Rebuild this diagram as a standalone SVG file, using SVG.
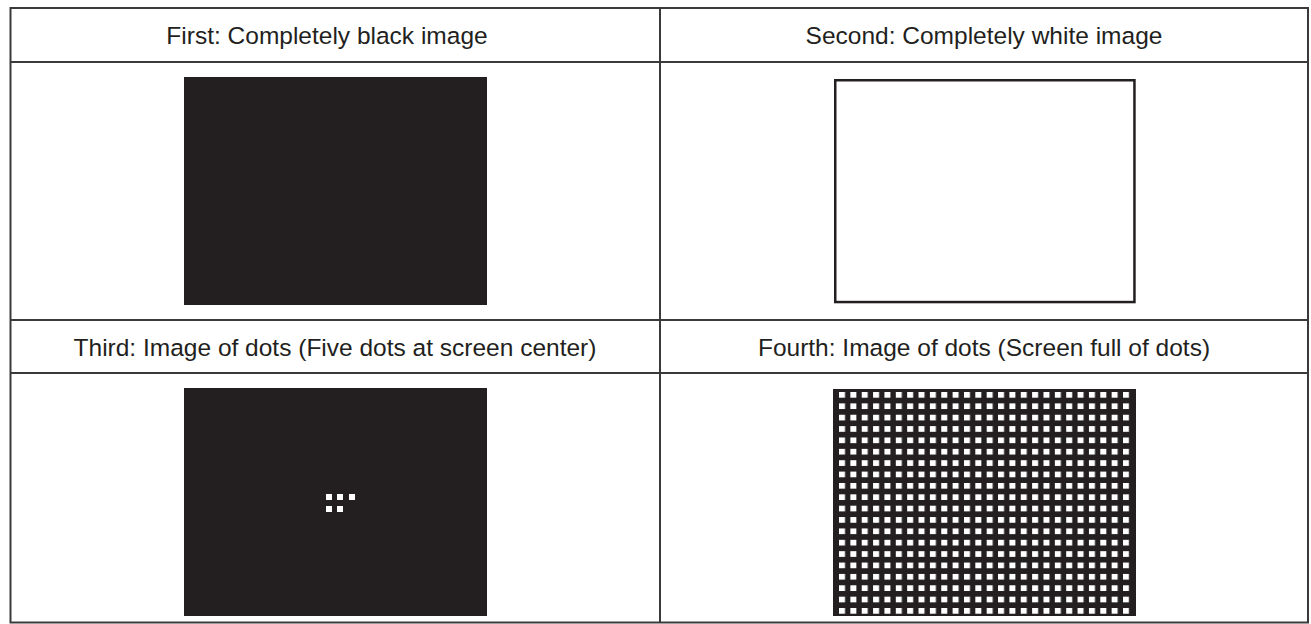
<svg xmlns="http://www.w3.org/2000/svg" width="1311" height="624" viewBox="0 0 1311 624">
<style>
.grid{stroke:#3a3a3a;stroke-width:2;fill:none}
.hd{font-family:"Liberation Sans",Arial,sans-serif;font-size:24.5px;fill:#231f20;text-anchor:middle}
.blk{fill:#231f20}
.dot{fill:#ffffff}
</style>
<defs>
<pattern id="dots" patternUnits="userSpaceOnUse" x="839" y="392" width="11.36" height="11.37">
<rect x="0" y="0" width="6" height="5.7" fill="#ffffff"/>
</pattern>
</defs>
<rect width="1311" height="624" fill="#ffffff"/>
<g id="table">
<rect class="grid" x="10.5" y="8" width="1297.5" height="614.5"/>
<line class="grid" x1="660" y1="8" x2="660" y2="622.5"/>
<line class="grid" x1="10.5" y1="62" x2="1308" y2="62"/>
<line class="grid" x1="10.5" y1="320" x2="1308" y2="320"/>
<line class="grid" x1="10.5" y1="373" x2="1308" y2="373"/>
</g>
<g id="cell1">
<text class="hd" x="327" y="44">First: Completely black image</text>
<rect class="blk" x="184" y="77" width="303" height="228"/>
</g>
<g id="cell2">
<text class="hd" x="984" y="44">Second: Completely white image</text>
<rect x="835.25" y="80.25" width="299.2" height="221.8" fill="#ffffff" stroke="#231f20" stroke-width="2.5"/>
</g>
<g id="cell3">
<text class="hd" x="335" y="356">Third: Image of dots (Five dots at screen center)</text>
<rect class="blk" x="184" y="388" width="303" height="228"/>
<rect class="dot" x="326" y="494" width="6" height="6"/>
<rect class="dot" x="337" y="494" width="6" height="6"/>
<rect class="dot" x="349" y="494" width="6" height="6"/>
<rect class="dot" x="326" y="506" width="6" height="6"/>
<rect class="dot" x="337" y="506" width="6" height="6"/>
</g>
<g id="cell4">
<text class="hd" x="984" y="356">Fourth: Image of dots (Screen full of dots)</text>
<rect class="blk" x="833" y="389" width="303" height="227"/>
<rect x="839" y="392" width="290.5" height="222.5" fill="url(#dots)"/>
</g>
</svg>
